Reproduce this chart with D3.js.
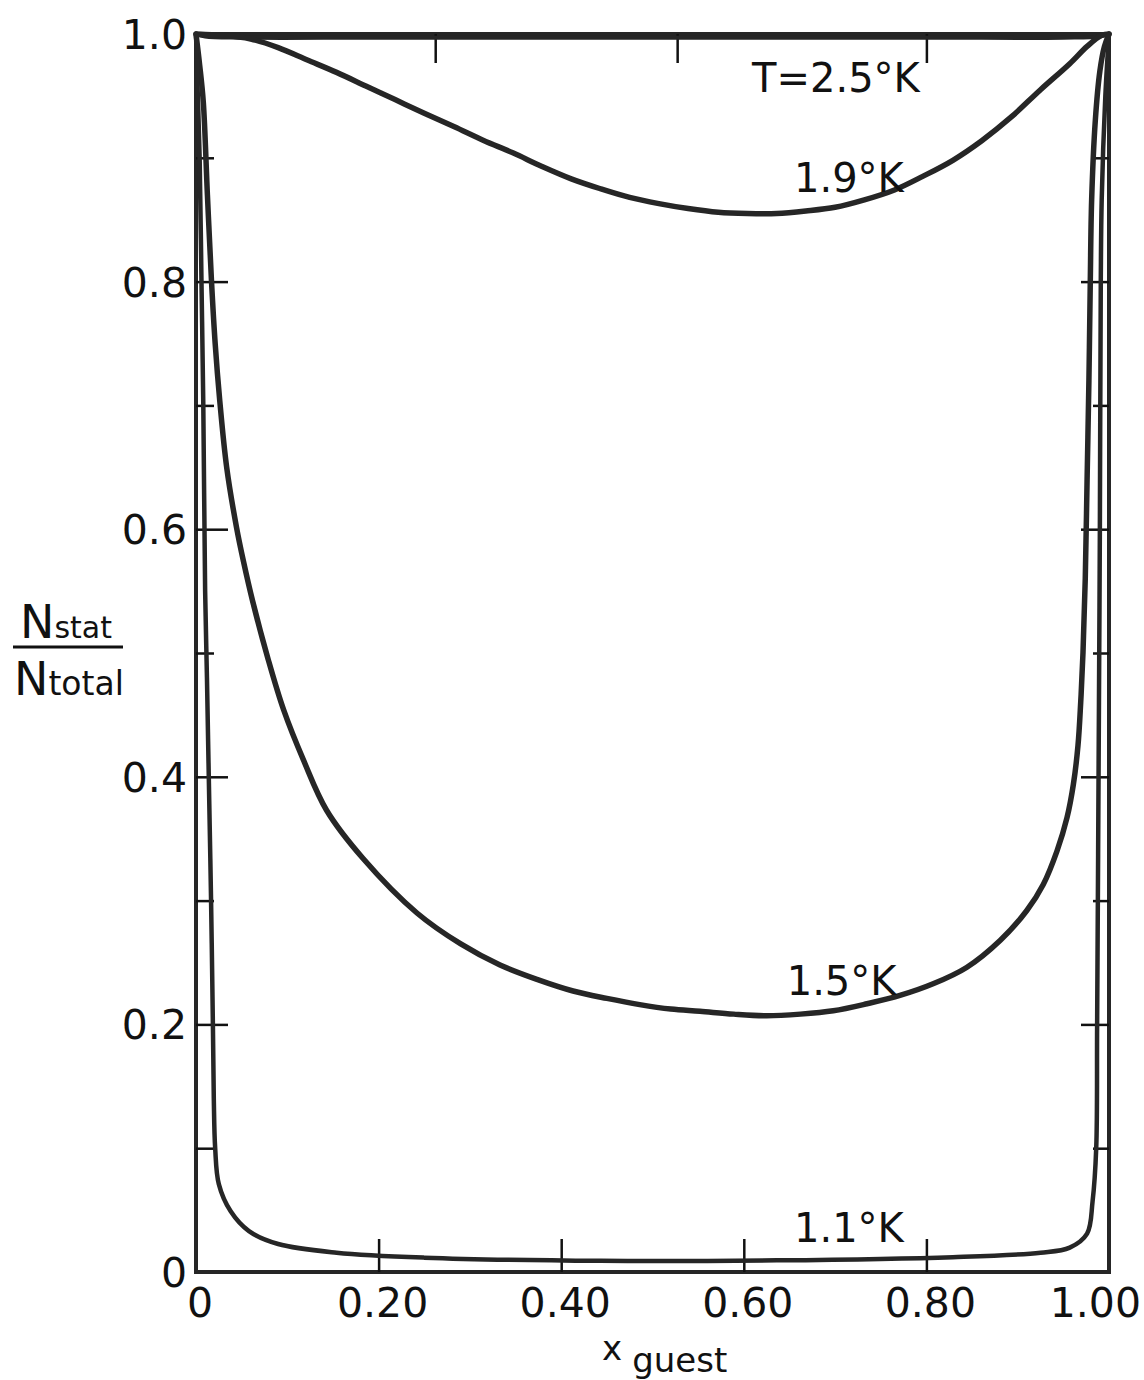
<!DOCTYPE html>
<html>
<head>
<meta charset="utf-8">
<script src="https://cdn.jsdelivr.net/npm/d3@7"></script>
<style>
  html, body { margin: 0; padding: 0; background: #fff; }
  text { font-family: "DejaVu Sans", sans-serif; fill: #111; }
</style>
</head>
<body>
<div id="chart"></div>
<script>
// ---- data ----
const xTickVals = [0, 0.2, 0.4, 0.6, 0.8, 1.0];
const xTickLabels = ["0", "0.20", "0.40", "0.60", "0.80", "1.00"];
const yTickVals = [0, 0.2, 0.4, 0.6, 0.8, 1.0];
const yTickLabels = ["0", "0.2", "0.4", "0.6", "0.8", "1.0"];
const yMajorTicks = [0.2, 0.4, 0.6, 0.8];
const yMinorTicks = [0.1, 0.3, 0.5, 0.7, 0.9];
const bottomTicks = [0.2, 0.4, 0.6, 0.8];
const topTicks = [0.262, 0.527, 0.8];

// T = 2.5 K (runs along the top edge)
const x25 = [0, 0.01, 0.05, 0.2, 0.5, 0.8, 0.95, 0.99, 1];
const v25 = [1, 0.998, 0.997, 0.997, 0.997, 0.997, 0.997, 0.998, 1];

// T = 1.9 K
const x19 = [0, 0.01, 0.03, 0.06, 0.09, 0.122, 0.154, 0.186, 0.218, 0.25, 0.283, 0.315, 0.347,
  0.379, 0.411, 0.443, 0.475, 0.507, 0.539, 0.572, 0.604, 0.636, 0.668, 0.70, 0.732, 0.765,
  0.796, 0.829, 0.861, 0.893, 0.925, 0.957, 0.976, 0.992, 1];
const v19 = [1, 0.9995, 0.999, 0.996, 0.989, 0.979, 0.969, 0.958, 0.947, 0.936, 0.925, 0.914, 0.904,
  0.893, 0.883, 0.875, 0.868, 0.863, 0.859, 0.856, 0.855, 0.855, 0.857, 0.860, 0.866, 0.874,
  0.885, 0.898, 0.914, 0.933, 0.955, 0.976, 0.990, 0.999, 1];

// T = 1.5 K
const x15 = [0, 0.004, 0.008, 0.0125, 0.017, 0.021, 0.026, 0.0336, 0.0445, 0.052, 0.062, 0.079,
  0.096, 0.118, 0.143, 0.183, 0.242, 0.290, 0.333, 0.375, 0.413, 0.45, 0.486, 0.52, 0.552, 0.589,
  0.625, 0.662, 0.698, 0.735, 0.771, 0.808, 0.844, 0.881, 0.91, 0.928, 0.943, 0.954, 0.961, 0.966,
  0.969, 0.9715, 0.974, 0.976, 0.978, 0.9795, 0.981, 0.985, 0.99, 0.995, 1];
const v15 = [1, 0.975, 0.945, 0.87, 0.80, 0.75, 0.704, 0.65, 0.601, 0.574, 0.542, 0.495,
  0.454, 0.413, 0.373, 0.334, 0.290, 0.265, 0.248, 0.236, 0.227, 0.221, 0.216, 0.2124, 0.2106, 0.2083,
  0.207, 0.2083, 0.211, 0.2167, 0.2234, 0.233, 0.246, 0.268, 0.292, 0.313, 0.340, 0.367, 0.394, 0.425,
  0.46, 0.50, 0.56, 0.64, 0.72, 0.80, 0.866, 0.93, 0.97, 0.99, 1];

// T = 1.1 K
const x11 = [0, 0.002, 0.004, 0.006, 0.008, 0.010, 0.012, 0.014, 0.0165, 0.0185, 0.0195, 0.021,
  0.025, 0.038, 0.058, 0.09, 0.154, 0.25, 0.443, 0.636, 0.829, 0.925, 0.957, 0.976, 0.982, 0.986,
  0.987, 0.989, 0.99, 0.991, 0.992, 0.996, 1];
const v11 = [1, 0.95, 0.9, 0.8, 0.7, 0.55, 0.48, 0.4, 0.3, 0.2, 0.14, 0.1,
  0.071, 0.049, 0.033, 0.0226, 0.0156, 0.0116, 0.009, 0.0094, 0.012, 0.0156, 0.0197, 0.031, 0.057, 0.1,
  0.2, 0.46, 0.6, 0.8, 0.866, 0.95, 1];

const curveLabels = [
  { text: "T=2.5°K", x: 0.609, v: 0.953 },
  { text: "1.9°K", x: 0.655, v: 0.872 },
  { text: "1.5°K", x: 0.647, v: 0.224 },
  { text: "1.1°K", x: 0.655, v: 0.024 }
];

const series = [
  { xs: x25, vs: v25, w: 4 },
  { xs: x19, vs: v19, w: 5.5 },
  { xs: x15, vs: v15, w: 5.5 },
  { xs: x11, vs: v11, w: 4.5 }
];

// ---- layout ----
const width = 1144, height = 1380;
const plotLeft = 196, plotRight = 1109, plotTop = 34, plotBottom = 1272;
const ink = "#262626";

const x = d3.scaleLinear().domain([0, 1]).range([plotLeft, plotRight]);
const y = d3.scaleLinear().domain([0, 1]).range([plotBottom, plotTop]);

const svg = d3.select("#chart").append("svg")
  .attr("width", width)
  .attr("height", height)
  .style("background", "#fff");

// frame
svg.append("rect")
  .attr("x", x(0)).attr("y", y(1))
  .attr("width", x(1) - x(0)).attr("height", y(0) - y(1))
  .attr("fill", "none")
  .attr("stroke", ink)
  .attr("stroke-width", 4);

// inward ticks
function ticks(axis, tx, ty) {
  const g = svg.append("g").attr("transform", `translate(${tx},${ty})`).call(axis);
  g.select(".domain").remove();
  g.selectAll("text").remove();
  g.selectAll("line").attr("stroke", "#111").attr("stroke-width", 2.5);
}
ticks(d3.axisRight(y).tickValues(yMajorTicks).tickSize(32), x(0), 0);
ticks(d3.axisRight(y).tickValues(yMinorTicks).tickSize(18), x(0), 0);
ticks(d3.axisLeft(y).tickValues(yMajorTicks).tickSize(28), x(1), 0);
ticks(d3.axisLeft(y).tickValues(yMinorTicks).tickSize(16), x(1), 0);
ticks(d3.axisTop(x).tickValues(bottomTicks).tickSize(33), 0, y(0));
ticks(d3.axisBottom(x).tickValues(topTicks).tickSize(29), 0, y(1));

// curves
const line = d3.line()
  .x(d => x(d[0]))
  .y(d => y(d[1]))
  .curve(d3.curveCatmullRom.alpha(0.5));

svg.append("g").selectAll("path")
  .data(series)
  .join("path")
  .attr("d", s => line(s.xs.map((xv, i) => [xv, s.vs[i]])))
  .attr("fill", "none")
  .attr("stroke", ink)
  .attr("stroke-width", s => s.w)
  .attr("stroke-linejoin", "round")
  .attr("stroke-linecap", "round");

// tick labels
svg.append("g").selectAll("text")
  .data(xTickVals)
  .join("text")
  .attr("x", d => x(d) + 4)
  .attr("y", 1317)
  .attr("text-anchor", "middle")
  .attr("font-size", 41)
  .text((d, i) => xTickLabels[i])
  .each(function () {
    // keep the last label inside the page
    const w = this.getComputedTextLength();
    const cx = +this.getAttribute("x");
    if (cx + w / 2 > width - 3) this.setAttribute("x", width - 3 - w / 2);
  });

svg.append("g").selectAll("text")
  .data(yTickVals)
  .join("text")
  .attr("x", x(0) - 9)
  .attr("y", d => y(d) + 15)
  .attr("text-anchor", "end")
  .attr("font-size", 41)
  .text((d, i) => yTickLabels[i]);

// curve labels
svg.append("g").selectAll("text")
  .data(curveLabels)
  .join("text")
  .attr("x", d => x(d.x))
  .attr("y", d => y(d.v))
  .attr("font-size", 40)
  .text(d => d.text);

// y axis title: N_stat / N_total
const yt = svg.append("g");
const t1 = yt.append("text").attr("x", 20).attr("y", 638);
t1.append("tspan").attr("font-size", 46).text("N");
t1.append("tspan").attr("font-size", 30).text("stat");
yt.append("line")
  .attr("x1", 13).attr("x2", 123)
  .attr("y1", 647).attr("y2", 647)
  .attr("stroke", "#111").attr("stroke-width", 3);
const t2 = yt.append("text").attr("x", 14).attr("y", 695);
t2.append("tspan").attr("font-size", 46).text("N");
t2.append("tspan").attr("font-size", 33).text("total");

// x axis title: x_guest
const xt = svg.append("text").attr("x", 602).attr("y", 1360).attr("font-size", 34);
xt.append("tspan").text("x");
xt.append("tspan").attr("dx", 10).attr("dy", 12).attr("font-size", 34).text("guest");
</script>
</body>
</html>
